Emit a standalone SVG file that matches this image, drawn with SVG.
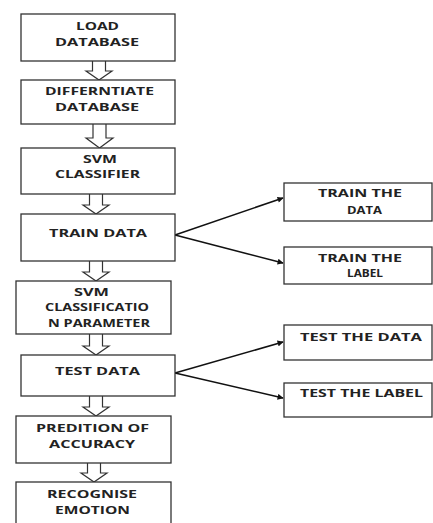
<svg xmlns="http://www.w3.org/2000/svg" width="433" height="523" viewBox="0 0 433 523">
<style>
.box{fill:#fff;stroke:#333;stroke-width:1.3}
.t{font-family:"Open Sans","Liberation Sans",sans-serif;font-weight:bold;font-size:10.5px;fill:#222}
.ha{fill:#fff;stroke:#333;stroke-width:1.2;stroke-linejoin:miter}
.con{stroke:#111;stroke-width:1.6;fill:none}
</style>
<defs>
<marker id="ah" viewBox="0 0 10 10" refX="9" refY="5" markerWidth="7" markerHeight="6" orient="auto" markerUnits="userSpaceOnUse">
<path d="M0,0 L10,5 L0,10 z" fill="#111"/>
</marker>
<path id="harrow" d="M-6.5,0 V-9 H-13.5 L0,0 L13.5,-9 H6.5 V0" />
</defs>
<rect width="433" height="523" fill="#fff"/>

<g id="connectors">
<path class="ha" d="M92.5,61 V71 H86 L99,80 L112,71 H105.5 V61"/>
<path class="ha" d="M93,124 V138 H86 L99.5,148 L113,138 H106 V124"/>
<path class="ha" d="M89.5,194 V205 H83 L96,214 L109,205 H102.5 V194"/>
<path class="ha" d="M89.5,261 V272 H83 L96,281 L109,272 H102.5 V261"/>
<path class="ha" d="M89.5,334 V346 H83 L96,355 L109,346 H102.5 V334"/>
<path class="ha" d="M89.5,396 V407 H83 L96,416 L109,407 H102.5 V396"/>
<path class="ha" d="M87.5,463 V473 H81 L94,482 L107,473 H100.5 V463"/>
<line class="con" x1="175" y1="235" x2="283" y2="198" marker-end="url(#ah)"/>
<line class="con" x1="175" y1="235" x2="283" y2="263" marker-end="url(#ah)"/>
<line class="con" x1="175" y1="373" x2="283" y2="342" marker-end="url(#ah)"/>
<line class="con" x1="175" y1="373" x2="283" y2="398" marker-end="url(#ah)"/>
</g>

<g id="load-database">
<rect class="box" x="21" y="14" width="154" height="47"/>
<text class="t" x="76" y="30" textLength="43" lengthAdjust="spacingAndGlyphs">LOAD</text>
<text class="t" x="55" y="46" textLength="84" lengthAdjust="spacingAndGlyphs">DATABASE</text>
</g>
<g id="differntiate-database">
<rect class="box" x="21" y="80" width="154" height="44"/>
<text class="t" x="45" y="95" textLength="109" lengthAdjust="spacingAndGlyphs">DIFFERNTIATE</text>
<text class="t" x="55" y="111" textLength="84" lengthAdjust="spacingAndGlyphs">DATABASE</text>
</g>
<g id="svm-classifier">
<rect class="box" x="21" y="148" width="154" height="46"/>
<text class="t" x="83" y="163" textLength="34" lengthAdjust="spacingAndGlyphs">SVM</text>
<text class="t" x="55" y="178" textLength="85" lengthAdjust="spacingAndGlyphs">CLASSIFIER</text>
</g>
<g id="train-data">
<rect class="box" x="21" y="214" width="154" height="47"/>
<text class="t" x="49" y="237" textLength="98" lengthAdjust="spacingAndGlyphs">TRAIN DATA</text>
</g>
<g id="svm-classification-parameter">
<rect class="box" x="16" y="281" width="155" height="53"/>
<text class="t" x="74" y="296" textLength="35" lengthAdjust="spacingAndGlyphs">SVM</text>
<text class="t" x="45" y="311" textLength="104" lengthAdjust="spacingAndGlyphs">CLASSIFICATIO</text>
<text class="t" x="48" y="327" textLength="102" lengthAdjust="spacingAndGlyphs">N PARAMETER</text>
</g>
<g id="test-data">
<rect class="box" x="21" y="355" width="154" height="41"/>
<text class="t" x="55" y="375" textLength="85" lengthAdjust="spacingAndGlyphs">TEST DATA</text>
</g>
<g id="predition-of-accuracy">
<rect class="box" x="16" y="416" width="155" height="47"/>
<text class="t" x="36" y="432" textLength="113" lengthAdjust="spacingAndGlyphs">PREDITION OF</text>
<text class="t" x="49" y="448" textLength="86" lengthAdjust="spacingAndGlyphs">ACCURACY</text>
</g>
<g id="recognise-emotion">
<rect class="box" x="16" y="482" width="155" height="45"/>
<text class="t" x="47" y="498" textLength="90" lengthAdjust="spacingAndGlyphs">RECOGNISE</text>
<text class="t" x="55" y="514" textLength="75" lengthAdjust="spacingAndGlyphs">EMOTION</text>
</g>
<g id="train-the-data">
<rect class="box" x="284" y="183" width="148" height="38"/>
<text class="t" x="318" y="197" textLength="84" lengthAdjust="spacingAndGlyphs">TRAIN THE</text>
<text class="t" x="347" y="214" textLength="35" lengthAdjust="spacingAndGlyphs">DATA</text>
</g>
<g id="train-the-label">
<rect class="box" x="284" y="247" width="148" height="37"/>
<text class="t" x="318" y="262" textLength="84" lengthAdjust="spacingAndGlyphs">TRAIN THE</text>
<text class="t" x="347" y="277" textLength="36" lengthAdjust="spacingAndGlyphs">LABEL</text>
</g>
<g id="test-the-data">
<rect class="box" x="284" y="325" width="148" height="35"/>
<text class="t" x="300" y="341" textLength="122" lengthAdjust="spacingAndGlyphs">TEST THE DATA</text>
</g>
<g id="test-the-label">
<rect class="box" x="284" y="383" width="148" height="34"/>
<text class="t" x="300" y="397" textLength="123" lengthAdjust="spacingAndGlyphs">TEST THE LABEL</text>
</g>
</svg>
